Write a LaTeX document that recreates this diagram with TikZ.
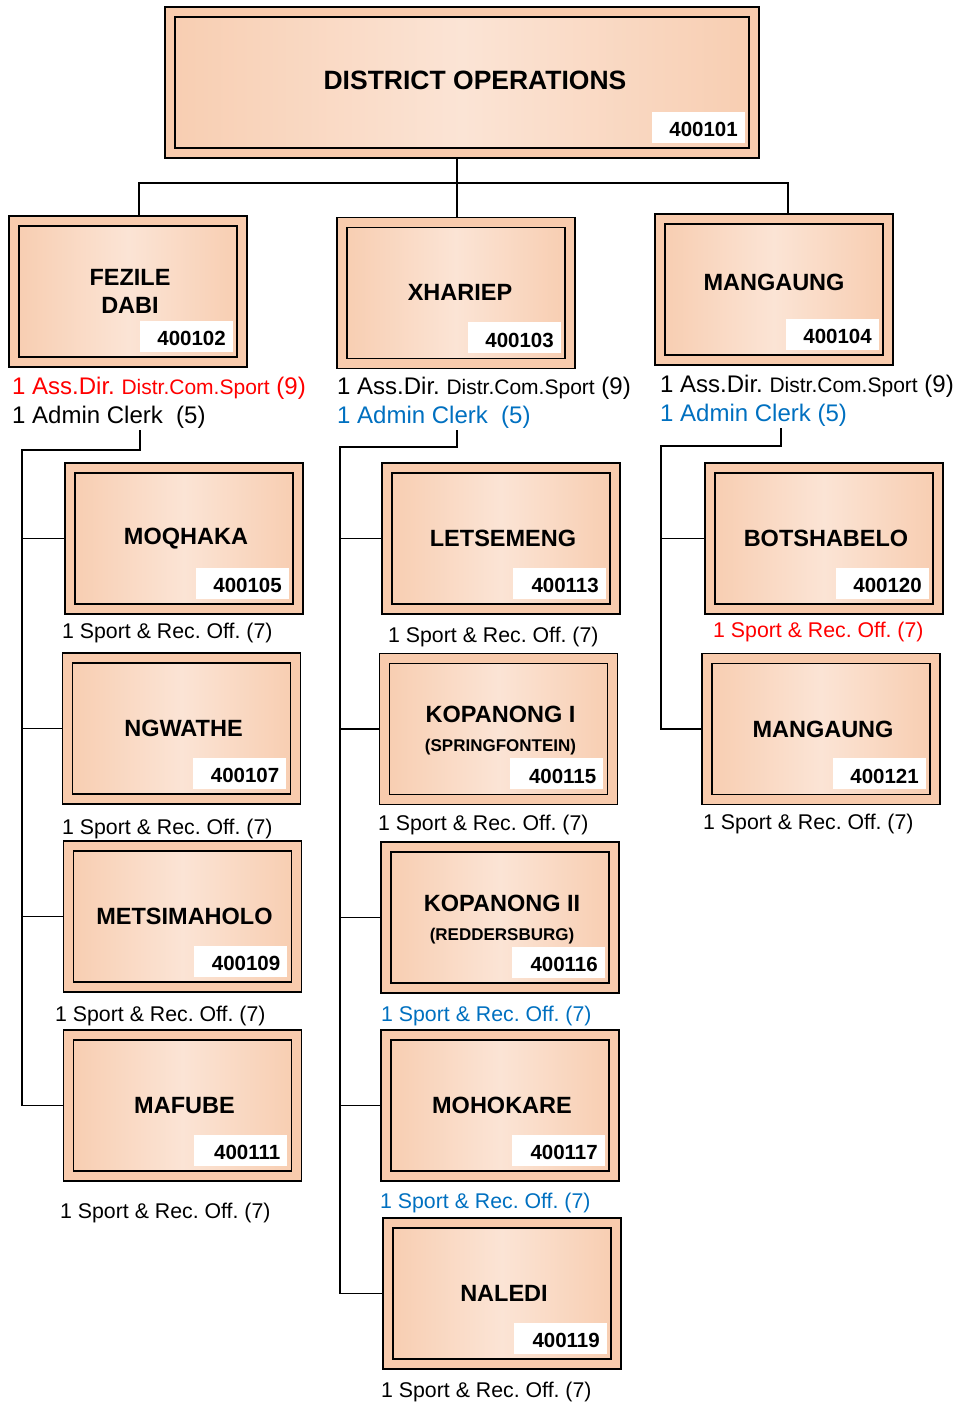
\documentclass[tikz,border=0pt]{standalone}
\usepackage{fontspec}
\setmainfont{Liberation Sans}
\definecolor{pk}{HTML}{F8CBAD}
\definecolor{pe}{HTML}{F8CEB2}
\definecolor{pl}{HTML}{FBE4D5}
\definecolor{myred}{HTML}{FF0000}
\definecolor{myblue}{HTML}{0070C0}
\tikzset{
 outerbox/.style={draw=black, line width=1.8pt, fill=pk, minimum width=238pt, minimum height=151pt, inner sep=0pt, outer sep=0pt},
 innerbox/.style={draw=black, line width=1.6pt, left color=pe, right color=pe, middle color=pl},
 numbox/.style={fill=white, anchor=south east, text width=79pt, align=right, inner xsep=7pt, inner ysep=0pt, minimum height=31pt, font=\bfseries\fontsize{20.5}{24}\selectfont},
 titletext/.style={font=\bfseries\fontsize{23.5}{28}\selectfont, align=center, inner sep=0pt},
 lbl/.style={anchor=base west, inner sep=0pt, font=\fontsize{21.3}{25}\selectfont},
 lblbig/.style={anchor=base west, inner sep=0pt, font=\fontsize{24}{28}\selectfont},
 conn/.style={draw=black, line width=1.3pt},
}
\newcommand{\orgbox}[7][238pt]{%
 \node[outerbox, minimum width=#1] (#2) at (#3) {};
 \path[innerbox] ([shift={(10pt,-10pt)}]#2.north west) rectangle ([shift={(-10pt,10pt)}]#2.south east);
 \node[numbox] (#2-n) at ([shift={(-14pt,15pt)}]#2.south east) {\raisebox{-2pt}[14.7pt][0pt]{#5}};
 \node[titletext, yshift=#6, xshift=#7] (#2-t) at (#2.center) {#4};
}
\newcommand{\subt}[1]{\\[1pt]{\fontsize{17}{20}\selectfont #1}}
\begin{document}
\frenchspacing
\begin{tikzpicture}[x=1pt,y=-1pt]
\useasboundingbox (0,0) rectangle (961,1402);
% boxes
\orgbox[594pt]{dist}{462,82.5}{{\fontsize{26.5}{30}\selectfont DISTRICT OPERATIONS}}{400101}{2.5pt}{13pt}
\orgbox{fd}{128,291.5}{FEZILE\\DABI}{400102}{0pt}{2pt}
\orgbox{xh}{456,293}{XHARIEP}{400103}{1pt}{4pt}
\orgbox{mg}{774,289.5}{MANGAUNG}{400104}{7pt}{0pt}
\orgbox{moq}{184,538.5}{MOQHAKA}{400105}{0pt}{2pt}
\orgbox{ngw}{181.5,728.5}{NGWATHE}{400107}{0pt}{2pt}
\orgbox{met}{182.5,916.5}{METSIMAHOLO}{400109}{0pt}{2pt}
\orgbox{maf}{182.5,1105.5}{MAFUBE}{400111}{0pt}{2pt}
\orgbox{let}{501,538.5}{LETSEMENG}{400113}{0pt}{2pt}
\orgbox{kopa}{498.5,729}{KOPANONG I\subt{(SPRINGFONTEIN)}}{400115}{-2pt}{2pt}
\orgbox{kopb}{500,917.5}{KOPANONG II\subt{(REDDERSBURG)}}{400116}{-2pt}{2pt}
\orgbox{moh}{500,1105.5}{MOHOKARE}{400117}{0pt}{2pt}
\orgbox{nal}{502,1293.5}{NALEDI}{400119}{0pt}{2pt}
\orgbox{bot}{824,538.5}{BOTSHABELO}{400120}{0pt}{2pt}
\orgbox{mgb}{821,729}{MANGAUNG}{400121}{0pt}{2pt}
% labels under level 2
\node[lblbig, text=myred] (fd-l1) at (12,394.6) {1 Ass.Dir. {\fontsize{21}{25}\selectfont Distr.Com.Sport} (9)};
\node[lblbig] (fd-l2) at (12,423.6) {1 Admin Clerk\ \ (5)};
\node[lblbig] (xh-l1) at (337,394.6) {1 Ass.Dir. {\fontsize{21}{25}\selectfont Distr.Com.Sport} (9)};
\node[lblbig, text=myblue] (xh-l2) at (337,423.6) {1 Admin Clerk\ \ (5)};
\node[lblbig] (mg-l1) at (660,392.6) {1 Ass.Dir. {\fontsize{21}{25}\selectfont Distr.Com.Sport} (9)};
\node[lblbig, text=myblue] (mg-l2) at (660,421.6) {1 Admin Clerk (5)};
% labels under level 3
\node[lbl] (moq-l) at (62,638.5) {1 Sport \& Rec. Off. (7)};
\node[lbl] (ngw-l) at (62,834.5) {1 Sport \& Rec. Off. (7)};
\node[lbl] (met-l) at (55,1021.5) {1 Sport \& Rec. Off. (7)};
\node[lbl] (maf-l) at (60,1218.5) {1 Sport \& Rec. Off. (7)};
\node[lbl] (let-l) at (388,642.5) {1 Sport \& Rec. Off. (7)};
\node[lbl] (kopa-l) at (378,830.5) {1 Sport \& Rec. Off. (7)};
\node[lbl, text=myblue] (kopb-l) at (381,1021.5) {1 Sport \& Rec. Off. (7)};
\node[lbl, text=myblue] (moh-l) at (380,1208.5) {1 Sport \& Rec. Off. (7)};
\node[lbl] (nal-l) at (381,1397.5) {1 Sport \& Rec. Off. (7)};
\node[lbl, text=myred] (bot-l) at (713,637.5) {1 Sport \& Rec. Off. (7)};
\node[lbl] (mgb-l) at (703,829.5) {1 Sport \& Rec. Off. (7)};
% connectors level 1-2
\coordinate (h1) at (139,183);
\coordinate (h2) at (457,183);
\coordinate (h3) at (788,183);
\draw[conn] (dist.south -| h2) -- (h2);
\draw[conn] (fd.north -| h1) |- (h3) -- (mg.north -| h3);
\draw[conn] (h2) -- (xh.north -| h2);
% left column
\coordinate (c1) at (140,430);
\coordinate (v1) at (22,450);
\draw[conn] (c1) |- (v1) |- (maf.west);
\foreach \n in {moq,ngw,met} \draw[conn] (v1 |- \n.west) -- (\n.west);
% middle column
\coordinate (c2) at (457,430);
\coordinate (v2) at (340,447);
\draw[conn] (c2) |- (v2) |- (nal.west);
\foreach \n in {let,kopa,kopb,moh} \draw[conn] (v2 |- \n.west) -- (\n.west);
% right column
\coordinate (c3) at (781,428);
\coordinate (v3) at (661,446);
\draw[conn] (c3) |- (v3) |- (mgb.west);
\draw[conn] (v3 |- bot.west) -- (bot.west);
\end{tikzpicture}
\end{document}
